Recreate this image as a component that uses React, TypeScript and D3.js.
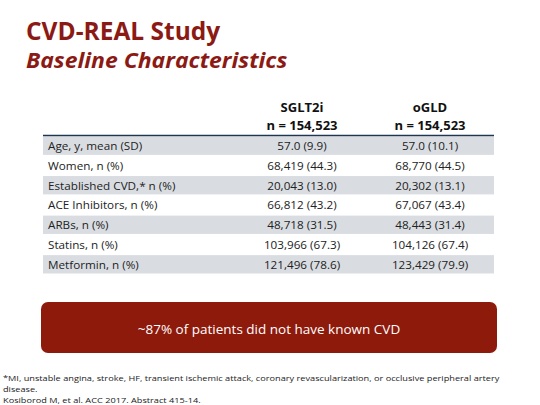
import React from "react";
import * as d3 from "d3";

const title = "CVD-REAL Study";
const subtitle = "Baseline Characteristics";
const groups = ["SGLT2i", "oGLD"];
const groupN = ["n = 154,523", "n = 154,523"];
const rowLabels = [
  "Age, y, mean (SD)",
  "Women, n (%)",
  "Established CVD,* n (%)",
  "ACE Inhibitors, n (%)",
  "ARBs, n (%)",
  "Statins, n (%)",
  "Metformin, n (%)",
];
const sglt2iValues = [
  "57.0 (9.9)",
  "68,419 (44.3)",
  "20,043 (13.0)",
  "66,812 (43.2)",
  "48,718 (31.5)",
  "103,966 (67.3)",
  "121,496 (78.6)",
];
const ogldValues = [
  "57.0 (10.1)",
  "68,770 (44.5)",
  "20,302 (13.1)",
  "67,067 (43.4)",
  "48,443 (31.4)",
  "104,126 (67.4)",
  "123,429 (79.9)",
];
const callout = "~87% of patients did not have known CVD";
const footnotes = [
  "*MI, unstable angina, stroke, HF, transient ischemic attack, coronary revascularization, or occlusive peripheral artery",
  "disease.",
  "Kosiborod M, et al.  ACC 2017. Abstract 415-14.",
];

const W = 540;
const H = 405;
const FONT = "'Open Sans', sans-serif";
const RED = "#8C1A14";
const BOX = "#8E1A0C";
const SX = 1.17;

export default function App() {
  const y = d3
    .scaleBand<string>()
    .domain(rowLabels)
    .range([136.5, 273.5])
    .paddingInner(0.07)
    .paddingOuter(0);
  const x = d3.scaleBand<string>().domain(groups).range([238, 494]).padding(0);
  const cols = [sglt2iValues, ogldValues];
  const cx = (g: string) => (x(g) as number) + x.bandwidth() / 2;
  const cy = (r: string) => (y(r) as number) + y.bandwidth() / 2 + 4.3;
  return (
    <svg
      width={W}
      height={H}
      style={{ position: "absolute", left: 0, top: 0, background: "#fff" }}
      fontFamily={FONT}
    >
      <rect width={W} height={H} fill="#fff" />
      <text x={26} y={40} fontSize={24.5} fontWeight={700} fill={RED}>
        {title}
      </text>
      <text
        transform="translate(26,68) scale(1.12,1)"
        fontSize={20.5}
        fontWeight={700}
        fontStyle="italic"
        fill={RED}
      >
        {subtitle}
      </text>
      {groups.map((g, i) => (
        <g key={g}>
          <text x={cx(g)} y={112} textAnchor="middle" fontSize={13} fontWeight={700} fill="#111">
            {g}
          </text>
          <text x={cx(g)} y={129.5} textAnchor="middle" fontSize={13} fontWeight={700} fill="#111">
            {groupN[i]}
          </text>
        </g>
      ))}
      {rowLabels.map((r, i) => (
        <g key={r}>
          {i % 2 === 0 && (
            <rect x={43} y={y(r)} width={451} height={y.bandwidth()} fill="#D9DDE1" />
          )}
          <text transform={`translate(48,${cy(r)}) scale(${SX},1)`} fontSize={10} fill="#222">
            {r}
          </text>
          {groups.map((g, j) => (
            <text
              key={g}
              transform={`translate(${cx(g)},${cy(r)}) scale(${SX},1)`}
              textAnchor="middle"
              fontSize={10}
              fill="#222"
            >
              {cols[j][i]}
            </text>
          ))}
        </g>
      ))}
      <line x1={43} x2={494} y1={135.5} y2={135.5} stroke="#1F3550" strokeWidth={1.6} />
      <rect x={41} y={302} width={456} height={51} rx={7} fill={BOX} />
      <text x={269} y={333.5} textAnchor="middle" fontSize={13.5} fill="#fff">
        {callout}
      </text>
      {footnotes.map((f, i) => (
        <text
          key={i}
          transform={`translate(3,${380.5 + i * 11}) scale(1.15,1)`}
          fontSize={8}
          fill="#222"
        >
          {f}
        </text>
      ))}
    </svg>
  );
}
